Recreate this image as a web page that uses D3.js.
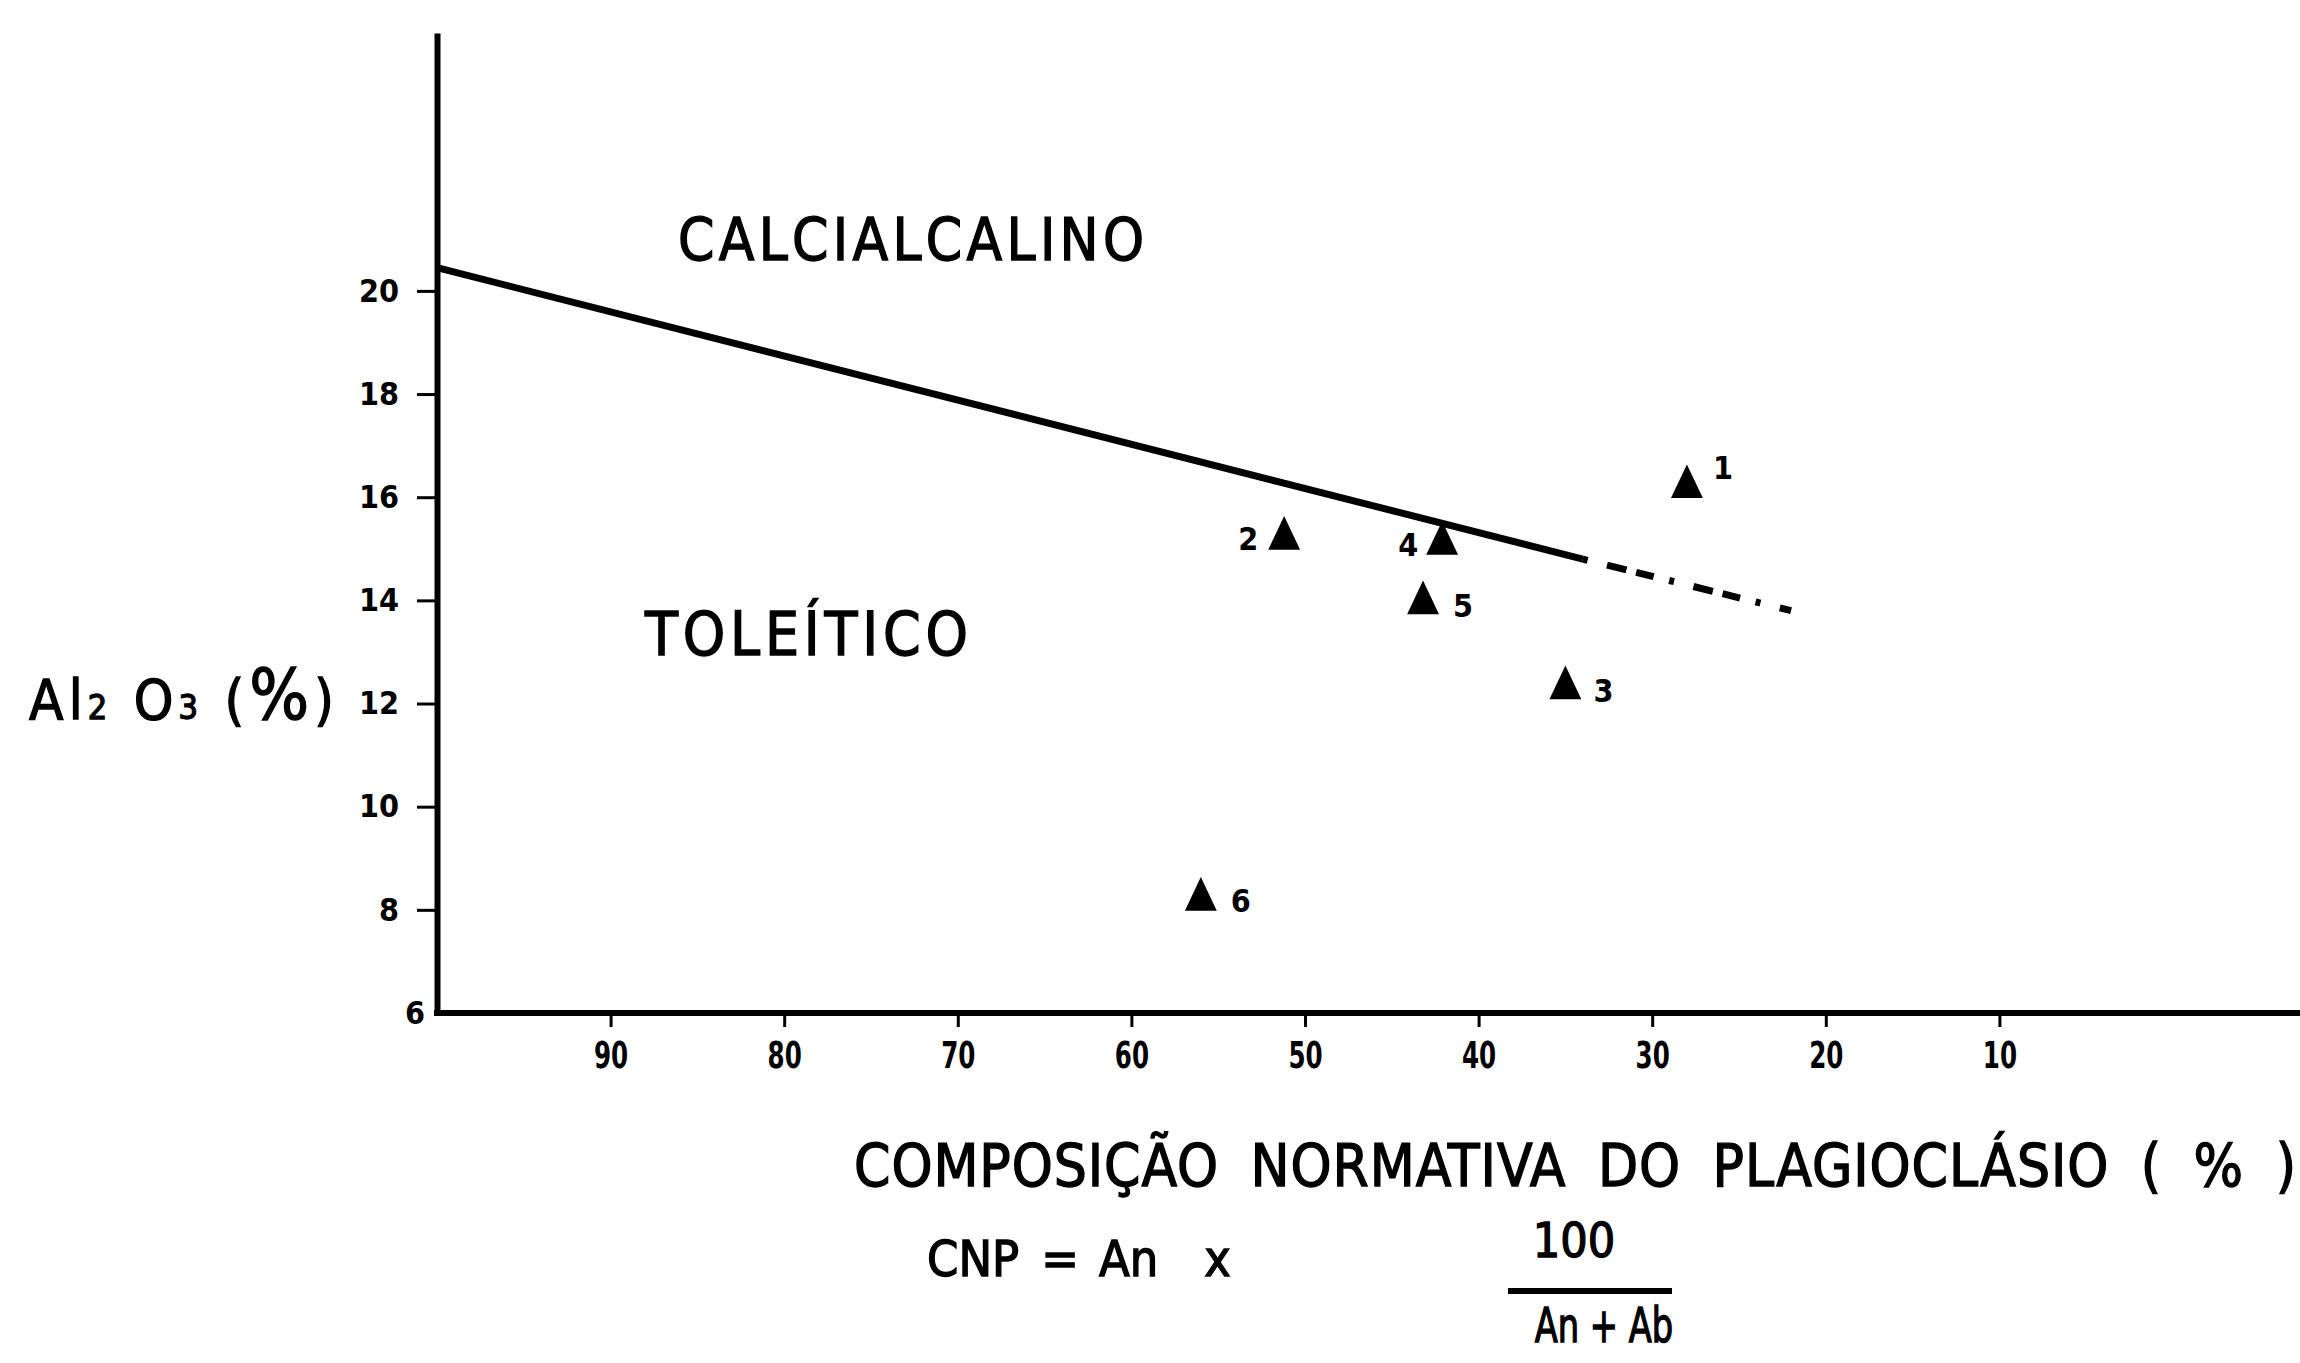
<!DOCTYPE html>
<html lang="pt">
<head>
<meta charset="UTF-8">
<title>Al2O3 x CNP</title>
<script src="https://cdn.jsdelivr.net/npm/d3@7"></script>
<style>
  body { margin: 0; background: #fff; }
  svg { display: block; }
  text { fill: #000; }
  .lbl { font-family: "DejaVu Sans Condensed", "DejaVu Sans", sans-serif; stroke: #000; stroke-width: 1.3px; }
  .ytick text { font-family: "DejaVu Sans Condensed", "DejaVu Sans", sans-serif; font-weight: bold; font-size: 32px; }
  .xtick text { font-family: "DejaVu Sans Condensed", "DejaVu Sans", sans-serif; font-weight: bold; font-size: 38px; }
</style>
</head>
<body>
<script>
// amostras: numero, CNP (%), Al2O3 (%)
let sampleIds = ['1', '2', '3', '4', '5', '6'];
let cnpValues = [28, 51.2, 35, 42.1, 43.2, 56];
let al2o3Values = [16.2, 15.2, 12.3, 15.1, 13.95, 8.2];

// limite calcialcalino / toleitico (ultimo trecho tracejado)
let boundaryCnp = [100, 34, 22];
let boundaryAl2o3 = [20.45, 14.8, 13.8];

let xTicks = [90, 80, 70, 60, 50, 40, 30, 20, 10];
let yTicks = [6, 8, 10, 12, 14, 16, 18, 20];

let width = 2300;
let height = 1363;

let svg = d3.select('body').append('svg')
  .attr('width', width)
  .attr('height', height);

let x = d3.scaleLinear().domain([100, 0]).range([437, 2173]);
let y = d3.scaleLinear().domain([6, 25]).range([1013, 33]);

// eixo y
let yAxis = d3.axisLeft(y)
  .tickValues(yTicks)
  .tickSize(20)
  .tickSizeOuter(0)
  .tickPadding(18);

let gy = svg.append('g')
  .attr('class', 'ytick')
  .attr('transform', 'translate(' + x(100) + ',0)')
  .call(yAxis);
gy.select('.domain').attr('stroke-width', 6);
gy.selectAll('.tick line').attr('stroke-width', 3);
gy.selectAll('.tick').filter(d => d === 6).select('line').remove();
gy.selectAll('.tick').filter(d => d === 6).select('text').attr('x', -12);

// eixo x
let xAxis = d3.axisBottom(x)
  .tickValues(xTicks)
  .tickSize(14)
  .tickPadding(14);

let gx = svg.append('g')
  .attr('class', 'xtick')
  .attr('transform', 'translate(0,' + y(6) + ')')
  .call(xAxis);
gx.select('.domain').remove();
gx.selectAll('.tick line').attr('stroke-width', 3);
gx.selectAll('.tick text').attr('transform', 'scale(0.72,1)');

svg.append('line')
  .attr('x1', x(100) - 3).attr('x2', width)
  .attr('y1', y(6)).attr('y2', y(6))
  .attr('stroke', '#000')
  .attr('stroke-width', 6);

// linha limite
let boundary = boundaryCnp.map((c, i) => [c, boundaryAl2o3[i]]);
let line = d3.line().x(d => x(d[0])).y(d => y(d[1]));

svg.append('path')
  .attr('d', line(boundary.slice(0, 2)))
  .attr('fill', 'none')
  .attr('stroke', '#000')
  .attr('stroke-width', 7);

svg.append('path')
  .attr('d', line(boundary.slice(1)))
  .attr('fill', 'none')
  .attr('stroke', '#000')
  .attr('stroke-width', 7)
  .attr('stroke-dasharray', '5,20,20,10,18,16');

// amostras
let samples = sampleIds.map((id, i) => ({ id: id, cnp: cnpValues[i], al: al2o3Values[i] }));
let tri = d3.symbol().type(d3.symbolTriangle).size(440);

let labelOffset = {
  '1': [26, -8],
  '2': [-46, 12],
  '3': [28, 14],
  '4': [-44, 12],
  '5': [30, 14],
  '6': [30, 12]
};

let pts = svg.append('g').selectAll('g')
  .data(samples)
  .join('g')
  .attr('transform', d => 'translate(' + x(d.cnp) + ',' + y(d.al) + ')');

pts.append('path')
  .attr('d', tri)
  .attr('transform', 'scale(1,1.22)')
  .attr('fill', '#000');

pts.append('text')
  .attr('class', 'lbl')
  .attr('x', d => labelOffset[d.id][0])
  .attr('y', d => labelOffset[d.id][1])
  .attr('font-size', 32)
  .attr('font-weight', 'bold')
  .style('stroke-width', 0)
  .text(d => d.id);

// rotulos dos campos
svg.append('text')
  .attr('class', 'lbl')
  .attr('x', 678).attr('y', 260)
  .attr('font-size', 58)
  .attr('textLength', 466)
  .attr('lengthAdjust', 'spacing')
  .text('CALCIALCALINO');

svg.append('text')
  .attr('class', 'lbl')
  .attr('x', 645).attr('y', 655)
  .attr('font-size', 60)
  .attr('textLength', 323)
  .attr('lengthAdjust', 'spacing')
  .text('TOLEÍTICO');

// titulo eixo y
let yt = svg.append('text')
  .attr('class', 'lbl')
  .attr('x', 29).attr('y', 719)
  .attr('font-size', 56)
  .attr('textLength', 305)
  .attr('lengthAdjust', 'spacing');
yt.append('tspan').text('Al');
yt.append('tspan').attr('font-size', 34).text('2');
yt.append('tspan').text(' O');
yt.append('tspan').attr('font-size', 34).text('3');
yt.append('tspan').text(' (');
yt.append('tspan').attr('font-size', 70).text('%');
yt.append('tspan').text(')');

// titulo eixo x
svg.append('text')
  .attr('class', 'lbl')
  .attr('x', 854).attr('y', 1186)
  .attr('font-size', 58)
  .attr('textLength', 1442)
  .attr('lengthAdjust', 'spacing')
  .style('word-spacing', '14px')
  .text('COMPOSIÇÃO NORMATIVA DO PLAGIOCLÁSIO ( % )');

// formula
let f = svg.append('text')
  .attr('class', 'lbl')
  .attr('x', 927).attr('y', 1276)
  .attr('font-size', 50);
f.append('tspan').text('CNP');
f.append('tspan').attr('dx', 22).text('=');
f.append('tspan').attr('dx', 20).text('An');
f.append('tspan').attr('dx', 46).text('x');

svg.append('text')
  .attr('class', 'lbl')
  .attr('x', 1574).attr('y', 1257)
  .attr('font-size', 48)
  .attr('text-anchor', 'middle')
  .text('100');

svg.append('line')
  .attr('x1', 1508).attr('x2', 1672)
  .attr('y1', 1291).attr('y2', 1291)
  .attr('stroke', '#000')
  .attr('stroke-width', 6);

svg.append('g')
  .attr('transform', 'translate(1604,1342) scale(0.78,1)')
  .append('text')
  .attr('class', 'lbl')
  .attr('font-size', 48)
  .attr('text-anchor', 'middle')
  .text('An + Ab');
</script>
</body>
</html>
